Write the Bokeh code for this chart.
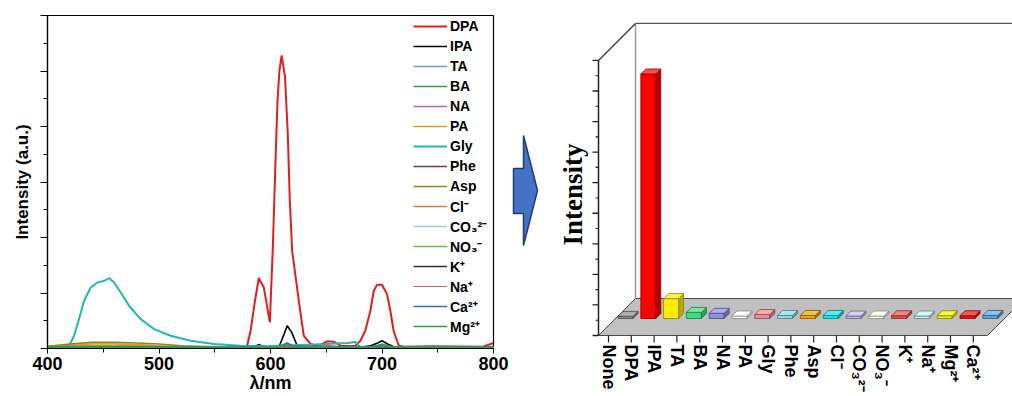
import numpy as np
from bokeh.plotting import figure
from bokeh.layouts import row
from bokeh.models import Range1d, SingleIntervalTicker, LabelSet, ColumnDataSource, LinearAxis, FixedTicker
from bokeh.core.properties import value
from bokeh.embed import file_html
from bokeh.resources import INLINE

# ---------------- left panel: emission spectra ----------------
DPA_x = [400, 450, 500, 550, 575, 579, 582, 586, 589.5, 594, 599.4, 602, 604.8, 606.3, 608, 610, 611.4, 613,
         615.5, 617.3, 619.4, 622.4, 625.4, 629.8, 636, 643, 651, 657, 663, 672, 676, 680.6, 685, 689.6, 692.6,
         695.6, 700, 704.5, 707.5, 710.4, 715, 720, 745, 790, 800]
DPA_y = [0.02, 0.02, 0.02, 0.02, 0.03, 0.05, 0.3, 0.85, 1.27, 1.10, 0.47, 1.77, 3.57, 4.47, 5.0, 5.28, 5.1, 4.9,
         3.87, 2.67, 1.77, 1.31, 0.86, 0.23, 0.08, 0.05, 0.13, 0.12, 0.05, 0.04, 0.05, 0.14, 0.32, 0.68, 1.04,
         1.15, 1.15, 0.98, 0.68, 0.32, 0.05, 0.03, 0.04, 0.03, 0.1]
IPA_x = [400, 580, 586, 590, 594, 605, 608, 612, 615, 619, 624, 630, 680, 690, 696, 700, 705, 712, 800]
IPA_y = [0.02, 0.02, 0.04, 0.07, 0.03, 0.02, 0.05, 0.25, 0.41, 0.29, 0.05, 0.02, 0.02, 0.05, 0.1, 0.14, 0.08, 0.02, 0.02]
TA_x = [400, 450, 500, 560, 600, 610, 615, 620, 630, 690, 700, 710, 800]
TA_y = [0.03, 0.04, 0.03, 0.02, 0.02, 0.06, 0.09, 0.05, 0.02, 0.02, 0.04, 0.02, 0.02]
BA_x = [400, 450, 500, 600, 610, 616, 622, 690, 700, 710, 800]
BA_y = [0.02, 0.03, 0.02, 0.02, 0.04, 0.06, 0.02, 0.02, 0.05, 0.02, 0.02]
NA_x = [400, 500, 600, 700, 800]
NA_y = [0.02, 0.02, 0.02, 0.02, 0.02]
PA_x = [400, 420, 440, 460, 480, 500, 530, 600, 700, 800]
PA_y = [0.03, 0.06, 0.08, 0.08, 0.07, 0.05, 0.03, 0.02, 0.02, 0.02]
Gly_x = [400, 415, 419.4, 423.8, 428.3, 432.8, 438.8, 444.8, 449.3, 452, 455.2, 459.7, 465.7, 473.1, 483.6,
         495.5, 510.4, 528.3, 549.2, 573.1, 600, 620, 640, 660, 670, 676, 681, 700, 800]
Gly_y = [0.03, 0.03, 0.05, 0.23, 0.53, 0.86, 1.10, 1.19, 1.21, 1.23, 1.27, 1.19, 1.01, 0.77, 0.53,
         0.35, 0.23, 0.14, 0.08, 0.05, 0.04, 0.06, 0.07, 0.09, 0.1, 0.12, 0.02, 0.02, 0.02]
Phe_x = [400, 500, 600, 615, 700, 800]
Phe_y = [0.03, 0.03, 0.02, 0.04, 0.03, 0.02]
Asp_x = [400, 420, 440, 460, 480, 500, 520, 550, 600, 700, 800]
Asp_y = [0.04, 0.08, 0.11, 0.11, 0.1, 0.08, 0.05, 0.03, 0.02, 0.03, 0.02]
Cl_x = [400, 440, 480, 520, 600, 700, 800]
Cl_y = [0.03, 0.05, 0.05, 0.03, 0.02, 0.02, 0.02]
CO3_x = [400, 500, 600, 700, 800]
CO3_y = [0.03, 0.03, 0.02, 0.02, 0.02]
NO3_x = [400, 450, 500, 600, 610, 616, 622, 690, 700, 710, 800]
NO3_y = [0.03, 0.04, 0.03, 0.02, 0.04, 0.07, 0.02, 0.02, 0.08, 0.02, 0.02]
K_x = [400, 600, 690, 700, 710, 800]
K_y = [0.02, 0.02, 0.02, 0.06, 0.02, 0.02]
Na_x = [400, 600, 640, 650, 660, 700, 800]
Na_y = [0.02, 0.02, 0.03, 0.06, 0.03, 0.02, 0.02]
Ca_x = [400, 600, 609, 615, 621, 700, 800]
Ca_y = [0.02, 0.02, 0.04, 0.1, 0.03, 0.02, 0.02]
Mg_x = [400, 600, 609, 615, 621, 690, 700, 710, 800]
Mg_y = [0.02, 0.02, 0.04, 0.07, 0.02, 0.02, 0.07, 0.02, 0.02]

legend_names = ["DPA", "IPA", "TA", "BA", "NA", "PA", "Gly", "Phe", "Asp", "Cl\u207b", "CO\u2083\u00b2\u207b",
                "NO\u2083\u207b", "K\u207a", "Na\u207a", "Ca\u00b2\u207a", "Mg\u00b2\u207a"]
spectra = [(DPA_x, DPA_y), (IPA_x, IPA_y), (TA_x, TA_y), (BA_x, BA_y), (NA_x, NA_y), (PA_x, PA_y),
           (Gly_x, Gly_y), (Phe_x, Phe_y), (Asp_x, Asp_y), (Cl_x, Cl_y), (CO3_x, CO3_y), (NO3_x, NO3_y),
           (K_x, K_y), (Na_x, Na_y), (Ca_x, Ca_y), (Mg_x, Mg_y)]
line_colors = ["#e01e1e", "#000000", "#6a9fd0", "#2e9e5e", "#a569bd", "#d9a21b", "#22b5be", "#6b3f3f",
               "#8b8b1a", "#e07b39", "#9ecae1", "#7cb82f", "#333333", "#e8604f", "#2c6fbb", "#2ca05a"]
line_widths = [2, 1.6, 1.6, 1.6, 1.6, 1.6, 2, 1.6, 1.6, 1.6, 1.6, 1.6, 1.6, 1.2, 1.6, 1.6]

FONT = "Liberation Sans"
TOP_B, BOT_B = 15, 48

left = figure(width=510, height=396, x_range=Range1d(400, 800), y_range=Range1d(0, 6),
              output_backend="svg", toolbar_location=None,
              min_border_left=47, min_border_right=17, min_border_top=TOP_B, min_border_bottom=BOT_B)
left.xgrid.visible = False
left.ygrid.visible = False
left.outline_line_color = "black"
left.outline_line_width = 1.2

for (xs, ys), name, col, lw in zip(spectra, legend_names, line_colors, line_widths):
    left.line(xs, ys, line_color=col, line_width=lw, legend_label=name)

left.xaxis.ticker = SingleIntervalTicker(interval=100, num_minor_ticks=2)
left.yaxis.ticker = SingleIntervalTicker(interval=1, num_minor_ticks=2)
for ax in (left.xaxis[0], left.yaxis[0]):
    ax.axis_line_color = "black"
    ax.axis_line_width = 1.2
    ax.major_tick_line_color = "black"
    ax.minor_tick_line_color = "black"
    ax.major_tick_in = 0
    ax.minor_tick_in = 0
    ax.major_label_text_font = FONT
    ax.major_label_text_font_style = "bold"
    ax.major_label_text_color = "black"
    ax.axis_label_text_font = FONT
    ax.axis_label_text_font_style = "bold"
    ax.axis_label_text_color = "black"
left.xaxis.major_tick_out = 5
left.xaxis.minor_tick_out = 4
left.xaxis.major_label_text_font_size = "18px"
left.xaxis.major_label_standoff = 3
left.xaxis.axis_label = "\u03bb/nm"
left.xaxis.axis_label_text_font_size = "18px"
left.xaxis.axis_label_standoff = 0
left.yaxis.major_tick_out = 7
left.yaxis.minor_tick_out = 4
left.yaxis.major_label_text_font_size = "1px"
left.yaxis.major_label_text_color = None
left.yaxis.major_label_standoff = 0
left.yaxis.axis_label = "Intensity (a.u.)"
left.yaxis.axis_label_text_font_size = "17px"
left.yaxis.axis_label_standoff = 9

lg = left.legend[0]
lg.location = (366, 12)
lg.padding = 0
lg.margin = 0
lg.spacing = 0
lg.glyph_width = 34
lg.glyph_height = 20
lg.label_height = 20
lg.label_standoff = 3
lg.border_line_color = None
lg.background_fill_alpha = 0
lg.label_text_font = FONT
lg.label_text_font_style = "bold"
lg.label_text_font_size = "14px"
lg.label_text_color = "black"

# ---------------- right panel: pseudo-3D bar chart ----------------
bar_categories = ["None", "DPA", "IPA", "TA", "BA", "NA", "PA", "Gly", "Phe", "Asp", "Cl\u207b",
                  "CO\u2083\u00b2\u207b", "NO\u2083\u207b", "K\u207a", "Na\u207a", "Mg\u00b2\u207a", "Ca\u00b2\u207a"]
bar_values = [0.07, 8.0, 0.65, 0.2, 0.17, 0.08, 0.13, 0.1, 0.1, 0.1, 0.08, 0.08, 0.09, 0.08, 0.09, 0.09, 0.1]
bar_colors = ["#8c8c8c", "#ff0000", "#ffee00", "#3ddc84", "#8f8fe0", "#ffffff", "#f28a8f", "#8fd8f0",
              "#f0a500", "#19e0f0", "#c4b8f0", "#fffff0", "#f04a55", "#c8f4f8", "#f5f000", "#ee1111", "#5aa5e0"]

# scale: one category step and one value unit in pixels on the page
PX_X = 22.8
PX_Y = 30.56
X_ORIGIN = 608.0   # page x of category 0
Y_ORIGIN = 335.0   # page y of value 0 on the front plane
PANEL_X0 = 510.0   # where the right panel starts on the page
W_R, H_R = 502, 396


def ux(px):
    return px / PX_X


def uy(px):
    return px / PX_Y


def cx(X):
    return (X - X_ORIGIN) / PX_X


def cy(Y):
    return (Y_ORIGIN - Y) / PX_Y


right = figure(width=W_R, height=H_R,
               x_range=Range1d(cx(PANEL_X0), cx(PANEL_X0 + W_R)),
               y_range=Range1d(cy(H_R - BOT_B), cy(TOP_B)),
               output_backend="svg", toolbar_location=None,
               x_axis_type=None, y_axis_type=None,
               min_border_left=0, min_border_right=0,
               min_border_top=TOP_B, min_border_bottom=BOT_B)
right.outline_line_color = None
right.xgrid.visible = False
right.ygrid.visible = False

n = len(bar_categories)
idx = list(range(n))
FLOOR_D = 37.0
left_edge = cx(598)
right_edge = cx(987)
dX, dY = ux(FLOOR_D), uy(FLOOR_D)
VMAX = 9

# category axis below the frame (labels read top to bottom)
cat_axis = LinearAxis(ticker=FixedTicker(ticks=idx),
                      major_label_overrides={i: c for i, c in zip(idx, bar_categories)},
                      major_label_orientation=-np.pi / 2,
                      axis_line_color=None, major_tick_line_color=None, minor_tick_line_color=None,
                      major_tick_out=0, major_tick_in=0, minor_tick_out=0, minor_tick_in=0,
                      major_label_standoff=-4, major_label_text_font=FONT,
                      major_label_text_font_style="bold", major_label_text_font_size="18px",
                      major_label_text_color="black")
right.add_layout(cat_axis, "below")

# floor
right.patch([left_edge, right_edge, right_edge + dX, left_edge + dX], [0, 0, dY, dY],
            fill_color="#c0c0c0", line_color="#4a4a4a", line_width=1)
# back wall edges
right.line([left_edge + dX, left_edge + dX], [dY, VMAX + dY], line_color="#9a9a9a", line_width=1.5)
right.line([left_edge + dX, cx(PANEL_X0 + W_R)], [VMAX + dY, VMAX + dY], line_color="#555555", line_width=1.2)
right.line([left_edge, left_edge + dX], [VMAX, VMAX + dY], line_color="#333333", line_width=1.2)
# front value axis
right.line([left_edge, left_edge], [0, VMAX], line_color="#222222", line_width=1.5)
maj = list(range(0, VMAX + 1))
mnr = [v + 0.5 for v in range(0, VMAX)]
right.segment(x0=[left_edge - ux(6)] * len(maj), y0=maj, x1=[left_edge] * len(maj), y1=maj,
              line_color="#222222", line_width=1.3)
right.segment(x0=[left_edge - ux(3)] * len(mnr), y0=mnr, x1=[left_edge] * len(mnr), y1=mnr,
              line_color="#222222", line_width=1.1)
# category ticks along floor front edge
right.segment(x0=idx, y0=[0] * n, x1=idx, y1=[-uy(7)] * n, line_color="#222222", line_width=1.2)


def shade(hexcol, f):
    h = hexcol.lstrip("#")
    r, g, b = (int(h[i:i + 2], 16) for i in (0, 2, 4))
    if f < 1:
        r, g, b = (int(c * f) for c in (r, g, b))
    else:
        t = f - 1
        r, g, b = (int(c + (255 - c) * t) for c in (r, g, b))
    return "#%02x%02x%02x" % (r, g, b)


BAR_W = 15.0
BAR_D = 5.0
BAR_SHIFT = 17.0
fx, fy, sx, sy, tx, ty = [], [], [], [], [], []
fc, sc, tc, oc = [], [], [], []
for i, (v, col) in enumerate(zip(bar_values, bar_colors)):
    x0 = i + ux(BAR_SHIFT - BAR_W / 2)
    x1 = x0 + ux(BAR_W)
    y0 = uy(BAR_SHIFT)
    y1 = y0 + v
    dx, dy = ux(BAR_D), uy(BAR_D)
    fx.append([x0, x1, x1, x0]); fy.append([y0, y0, y1, y1])
    sx.append([x1, x1 + dx, x1 + dx, x1]); sy.append([y0, y0 + dy, y1 + dy, y1])
    tx.append([x0, x1, x1 + dx, x0 + dx]); ty.append([y1, y1, y1 + dy, y1 + dy])
    fc.append(col); sc.append(shade(col, 0.72)); tc.append(shade(col, 1.3)); oc.append(shade(col, 0.55))

right.patches(fx, fy, fill_color=fc, line_color=oc, line_width=0.8)
right.patches(sx, sy, fill_color=sc, line_color=oc, line_width=0.8)
right.patches(tx, ty, fill_color=tc, line_color=oc, line_width=0.8)

# value-axis title
title_src = ColumnDataSource(dict(x=[cx(572)], y=[cy(194)], text=["Intensity"]))
right.add_layout(LabelSet(x="x", y="y", text="text", source=title_src, angle=np.pi / 2,
                          text_align="center", text_baseline="middle", text_font=value("Liberation Serif"),
                          text_font_style="bold", text_font_size="27px", text_color="black"))

# block arrow between the panels
arrow_px = [(513, 168), (523, 168), (523, 135), (537, 190), (523, 245), (523, 213), (513, 213)]
right.patch([cx(p[0]) for p in arrow_px], [cy(p[1]) for p in arrow_px],
            fill_color="#4472c4", line_color="#1f3c78", line_width=1.5)

layout = row(left, right, spacing=0)
open("out.html", "w").write(file_html(layout, INLINE))
